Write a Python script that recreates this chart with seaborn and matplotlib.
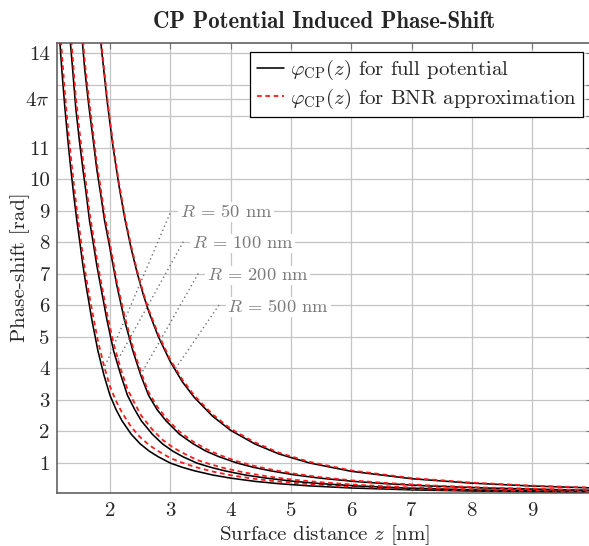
import matplotlib
matplotlib.use("Agg")
import matplotlib.pyplot as plt
from matplotlib.lines import Line2D
import numpy as np
import pandas as pd
import seaborn as sns

# ---------------- data ----------------
radii = ["50", "100", "200", "500"]

r50_x = [1.12, 1.15, 1.2, 1.25, 1.3, 1.35, 1.4, 1.45, 1.5, 1.55, 1.6, 1.7, 1.8, 1.9,
         2.0, 2.1, 2.2, 2.35, 2.5, 2.65, 2.8, 3.0, 3.2, 3.4, 3.7, 4.0, 4.4, 4.8, 5.3,
         6, 7, 8, 9, 10]
r50_full = [15.8, 14.87, 13.5, 12.31, 11.26, 10.33, 9.47, 8.69, 8.0, 7.28, 6.66, 5.53,
            4.55, 3.78, 3.14, 2.69, 2.33, 1.91, 1.60, 1.37, 1.19, 0.99, 0.855, 0.745,
            0.612, 0.512, 0.410, 0.335, 0.266, 0.199, 0.139, 0.102, 0.078, 0.061]
r50_bnr = [16.43, 15.46, 14.04, 12.80, 11.71, 10.74, 9.85, 9.04, 8.32, 7.57, 6.93, 5.86,
           4.87, 4.08, 3.42, 2.96, 2.59, 2.14, 1.81, 1.56, 1.37, 1.148, 1.0, 0.872,
           0.722, 0.604, 0.488, 0.399, 0.319, 0.239, 0.167, 0.122, 0.094, 0.073]

r100_x = [1.29, 1.32, 1.38, 1.43, 1.49, 1.55, 1.61, 1.66, 1.72, 1.78, 1.84, 1.95, 2.06,
          2.18, 2.29, 2.41, 2.52, 2.70, 2.87, 3.04, 3.21, 3.44, 3.67, 3.90, 4.24, 4.59,
          5.05, 5.51, 6.08, 6.88, 8.03, 9.18, 10.0]
r100_full = [15.8, 14.87, 13.5, 12.31, 11.26, 10.33, 9.47, 8.69, 8.0, 7.28, 6.66, 5.53,
             4.55, 3.78, 3.14, 2.69, 2.33, 1.91, 1.60, 1.37, 1.19, 0.99, 0.855, 0.745,
             0.612, 0.512, 0.410, 0.335, 0.266, 0.199, 0.139, 0.102, 0.083]
r100_bnr = [16.27, 15.32, 13.91, 12.68, 11.60, 10.64, 9.75, 8.95, 8.24, 7.50, 6.86, 5.75,
            4.78, 3.97, 3.33, 2.88, 2.49, 2.06, 1.73, 1.49, 1.31, 1.09, 0.949, 0.827,
            0.685, 0.573, 0.459, 0.379, 0.301, 0.225, 0.157, 0.115, 0.094]

r200_x = [1.48, 1.52, 1.58, 1.65, 1.72, 1.78, 1.85, 1.91, 1.98, 2.05, 2.11, 2.24, 2.38,
          2.51, 2.64, 2.78, 2.93, 3.15, 3.38, 3.59, 3.81, 4.11, 4.38, 4.66, 5.07, 5.48,
          6.03, 6.58, 7.26, 8.22, 9.59, 10.0]
r200_full = [15.8, 14.87, 13.5, 12.31, 11.26, 10.33, 9.47, 8.69, 8.0, 7.28, 6.66, 5.53,
             4.55, 3.78, 3.14, 2.69, 2.33, 1.91, 1.60, 1.37, 1.19, 0.99, 0.855, 0.745,
             0.612, 0.512, 0.410, 0.335, 0.266, 0.199, 0.139, 0.127]
r200_bnr = [16.12, 15.17, 13.77, 12.56, 11.49, 10.54, 9.66, 8.86, 8.16, 7.43, 6.79, 5.67,
            4.67, 3.89, 3.24, 2.79, 2.42, 1.99, 1.67, 1.44, 1.25, 1.045, 0.905, 0.790,
            0.650, 0.545, 0.437, 0.358, 0.285, 0.213, 0.149, 0.136]

r500_x = [1.75, 1.85, 1.95, 2.05, 2.15, 2.25, 2.35, 2.45, 2.55, 2.65, 2.8, 3.0, 3.2, 3.4,
          3.7, 4.0, 4.4, 4.8, 5.3, 6, 7, 8, 9, 10]
r500_full = [16.46, 14.3, 12.52, 11.03, 9.78, 8.71, 7.81, 7.03, 6.35, 5.76, 5.01, 4.21,
             3.57, 3.07, 2.48, 2.03, 1.60, 1.28, 0.997, 0.728, 0.493, 0.352, 0.261, 0.200]
r500_bnr = [16.62, 14.44, 12.65, 11.14, 9.88, 8.80, 7.89, 7.10, 6.41, 5.82, 5.09, 4.27,
            3.64, 3.13, 2.54, 2.08, 1.65, 1.32, 1.032, 0.757, 0.515, 0.370, 0.274, 0.210]

x_ticks = [2, 3, 4, 5, 6, 7, 8, 9, 10]
x_tick_labels = ["2", "3", "4", "5", "6", "7", "8", "9", ""]
y_ticks = [1, 2, 3, 4, 5, 6, 7, 8, 9, 10, 11, 12, 13, 14, 4 * np.pi]
y_tick_labels = ["1", "2", "3", "4", "5", "6", "7", "8", "9", "10", "11", "", "", "14",
                 r"$4\pi$"]

annot_labels = [r"$R$ = 50 nm", r"$R$ = 100 nm", r"$R$ = 200 nm", r"$R$ = 500 nm"]

# ---------------- style ----------------
sns.set_style("white")
plt.rcParams["font.family"] = ["cmr10"]
plt.rcParams["mathtext.fontset"] = "cm"
plt.rcParams["axes.unicode_minus"] = False
plt.rcParams["axes.formatter.use_mathtext"] = True

FS = 15
W, H = 589, 546
fig = plt.figure(figsize=(W / 100, H / 100), dpi=100)
ax_l, ax_r, ax_t, ax_b = 56.7, 592.4, 43.3, 493.3
ax = fig.add_axes([ax_l / W, 1 - ax_b / H, (ax_r - ax_l) / W, (ax_b - ax_t) / H])

series = [(r50_x, r50_full, r50_bnr), (r100_x, r100_full, r100_bnr),
          (r200_x, r200_full, r200_bnr), (r500_x, r500_full, r500_bnr)]
dash = (0, (2.6, 2.0))
for xs, yf, yb in series:
    df = pd.DataFrame({"z": xs, "full": yf, "bnr": yb})
    sns.lineplot(data=df, x="z", y="full", color="black", lw=1.15, sort=False,
                 ax=ax, legend=False)
    sns.lineplot(data=df, x="z", y="bnr", color="#ff1a1a", lw=1.3, linestyle=dash,
                 sort=False, ax=ax, legend=False)

ax.set_xlim(1.116, 10)
ax.set_ylim(0.03, 14.32)
ax.set_xticks(x_ticks)
ax.set_xticklabels(x_tick_labels)
ax.set_yticks(y_ticks)
ax.set_yticklabels(y_tick_labels)
ax.set_xlabel("")
ax.set_ylabel("")
ax.grid(True, color="#c4c4c4", lw=0.9)
ax.set_axisbelow(True)
ax.tick_params(direction="in", length=4, width=0.8, color="#777777", top=True,
               right=True, labelsize=FS)
ax.tick_params(axis="x", pad=6)
ax.tick_params(axis="y", pad=5)
for s in ax.spines.values():
    s.set_color("#555555")
    s.set_linewidth(1.1)

# annotations: label positions and pointer ends (layout)
text_pos = [(3.16, 8.97), (3.355, 7.97), (3.604, 6.96), (3.946, 5.95)]
line_start = [(2.995, 8.92), (3.216, 8.02), (3.464, 7.01), (3.808, 6.01)]
line_end = [(1.88, 3.9), (2.11, 4.2), (2.51, 3.8), (3.07, 3.95)]
for lab, tp, ls, le in zip(annot_labels, text_pos, line_start, line_end):
    ax.plot([ls[0], le[0]], [ls[1], le[1]], color="#707070", lw=1.0,
            linestyle=(0, (1, 2.2)), zorder=3)
    ax.text(tp[0], tp[1], lab, color="#7a7a7a", fontsize=13.3, ha="left",
            va="center", bbox=dict(fc="white", ec="none", pad=1.0), zorder=4)

handles = [Line2D([], [], color="black", lw=1.15),
           Line2D([], [], color="#ff1a1a", lw=1.3, linestyle=dash)]
leg = ax.legend(handles, [r"$\varphi_{\mathrm{CP}}(z)$ for full potential",
                          r"$\varphi_{\mathrm{CP}}(z)$ for BNR approximation"],
                loc="upper right", bbox_to_anchor=((583 - ax_l) / (ax_r - ax_l),
                                                   (ax_b - 52) / (ax_b - ax_t)),
                borderaxespad=0, fancybox=False, framealpha=1, edgecolor="black",
                fontsize=FS, handlelength=1.3, handletextpad=0.3, borderpad=0.3,
                labelspacing=0.2)
leg.get_frame().set_linewidth(0.9)

cx = (ax_l + ax_r) / 2
fig.text(cx / W, 1 - 22 / H, "CP Potential Induced Phase-Shift", family="cmb10",
         fontsize=16.5, ha="center", va="center")
fig.text(cx / W, 1 - 535 / H, r"Surface distance $z$ [nm]", fontsize=FS,
         ha="center", va="center")
fig.text(20 / W, 1 - 267 / H, "Phase-shift [rad]", fontsize=FS, rotation=90,
         ha="center", va="center")

fig.savefig("out.png", dpi=100)
